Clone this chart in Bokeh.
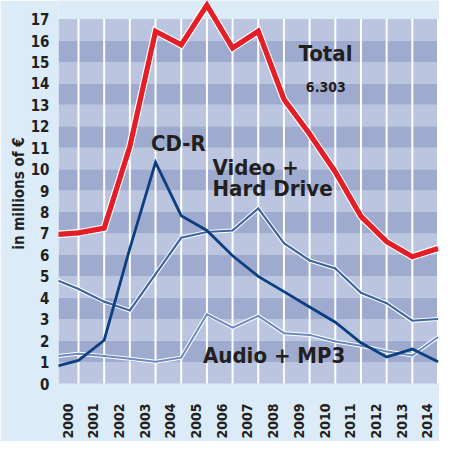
import math
from bokeh.plotting import figure
from bokeh.models import Range1d, FixedTicker, Label, ColumnDataSource
from bokeh.embed import file_html
from bokeh.resources import INLINE

# ---- data ----
years = [1999, 2000, 2001, 2002, 2003, 2004, 2005, 2006, 2007,
         2008, 2009, 2010, 2011, 2012, 2013, 2014]
total = [6.94, 7.03, 7.25, 11.05, 16.43, 15.80, 17.65, 15.65, 16.43,
         13.26, 11.64, 9.87, 7.80, 6.62, 5.92, 6.303]
cd_r = [0.76, 1.08, 2.02, 6.30, 10.32, 7.83, 7.14, 5.96, 5.00,
        4.29, 3.57, 2.86, 1.90, 1.24, 1.61, 1.02]
video_hd = [4.90, 4.41, 3.82, 3.41, 5.10, 6.80, 7.07, 7.14, 8.17,
            6.55, 5.74, 5.37, 4.23, 3.75, 2.93, 3.01]
audio_mp3 = [1.26, 1.39, 1.28, 1.16, 1.02, 1.21, 3.23, 2.61, 3.16,
             2.35, 2.27, 1.96, 1.76, 1.50, 1.31, 2.17]

label_years = list(range(2000, 2015))
y_ticks = list(range(0, 18))
y_title = "in millions of €"
total_value_label = "6.303"

# ---- style ----
FONT = "DejaVu Sans Condensed, Roboto"
PAGE_BG = "#dbebf7"
BAND_LIGHT = "#bbc5e0"
BAND_DARK = "#9eabcf"
RED = "#e41e26"
NAVY = "#0b3f80"
MID = "#3d63a2"
LIGHT = "#6b88c2"
TXT = "#231f20"

x_start, x_end = 1999.221, 2014.058
y_start, y_end = -0.137, 17.866
label_shift = 0.42

p = figure(width=439, height=441, output_backend="svg", toolbar_location=None,
           x_range=Range1d(x_start, x_end), y_range=Range1d(y_start, y_end),
           min_border_left=58, min_border_right=0, min_border_top=0,
           min_border_bottom=46)
p.background_fill_color = PAGE_BG
p.border_fill_color = PAGE_BG
p.outline_line_color = None
p.xgrid.visible = False
p.ygrid.visible = False

# alternating horizontal bands
band_src = ColumnDataSource(dict(
    bottom=y_ticks[:-1], top=y_ticks[1:],
    left=[x_start] * (len(y_ticks) - 1), right=[x_end] * (len(y_ticks) - 1),
    color=[BAND_LIGHT if b % 2 == 0 else BAND_DARK for b in y_ticks[:-1]]))
p.quad(left="left", right="right", bottom="bottom", top="top",
       fill_color="color", line_color=None, source=band_src)

# white vertical grid lines
p.segment(x0=label_years, y0=[y_ticks[0]] * len(label_years),
          x1=label_years, y1=[y_ticks[-1]] * len(label_years),
          line_color="white", line_width=2)

# series
p.line(years, audio_mp3, line_color="white", line_width=4, line_join="miter")
p.line(years, audio_mp3, line_color=LIGHT, line_width=2, line_join="miter")
p.line(years, video_hd, line_color="white", line_width=4.2, line_join="miter")
p.line(years, video_hd, line_color=MID, line_width=2.2, line_join="miter")
p.line(years, cd_r, line_color=NAVY, line_width=2.8, line_join="miter")
p.line(years, total, line_color="white", line_width=7.5, line_join="miter")
p.line(years, total, line_color=RED, line_width=5.2, line_join="miter")

# text labels
def lab(x, y, text, size, align="center"):
    p.add_layout(Label(x=x, y=y, text=text, text_font=FONT, text_font_size=size,
                       text_font_style="bold", text_color=TXT,
                       text_align=align, text_baseline="middle"))

lab(2009.62, 15.4, "Total", "22px")
lab(2009.63, 13.83, total_value_label, "14px")
lab(2003.89, 11.19, "CD-R", "22px")
lab(2005.22, 10.09, "Video +", "22px", align="left")
lab(2005.22, 9.11, "Hard Drive", "22px", align="left")
lab(2007.62, 1.31, "Audio + MP3", "22px")

# axes
xa = p.xaxis[0]
tick_pos = [yr - label_shift for yr in label_years]
xa.ticker = FixedTicker(ticks=tick_pos)
xa.major_label_overrides = {t: str(yr) for t, yr in zip(tick_pos, label_years)}
xa.major_label_orientation = math.pi / 2
xa.major_label_text_font = FONT
xa.major_label_text_font_size = "14px"
xa.major_label_text_font_style = "bold"
xa.major_label_text_color = TXT
xa.major_label_standoff = 11
xa.axis_line_color = None
xa.major_tick_line_color = None
xa.minor_tick_line_color = None

ya = p.yaxis[0]
ya.ticker = FixedTicker(ticks=y_ticks)
ya.major_label_text_font = FONT
ya.major_label_text_font_size = "15px"
ya.major_label_text_font_style = "bold"
ya.major_label_text_color = TXT
ya.major_label_standoff = 3
ya.axis_line_color = None
ya.major_tick_line_color = None
ya.minor_tick_line_color = None
ya.axis_label = y_title
ya.axis_label_text_font = FONT
ya.axis_label_text_font_size = "15px"
ya.axis_label_text_font_style = "bold"
ya.axis_label_text_color = TXT
ya.axis_label_standoff = 0

open("out.html", "w").write(file_html(p, INLINE))
